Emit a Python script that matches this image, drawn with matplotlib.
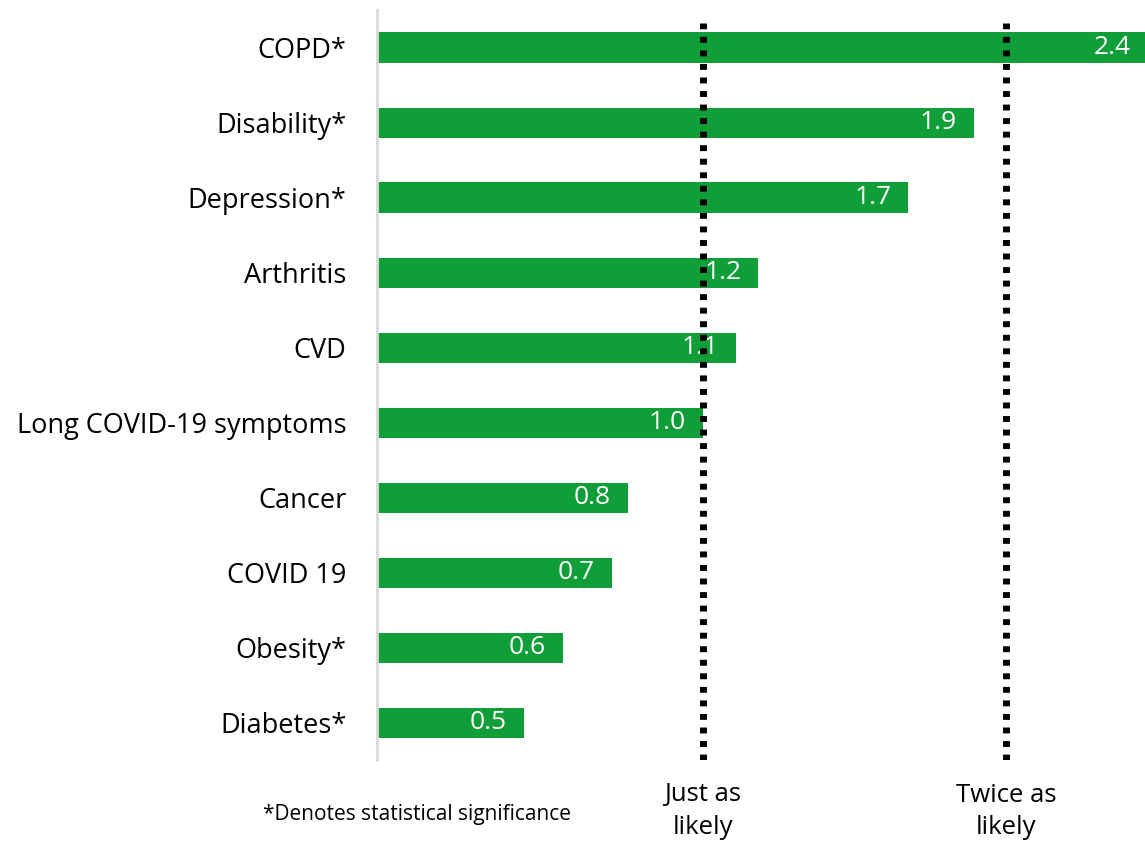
import matplotlib; matplotlib.use("Agg")
import matplotlib.pyplot as plt

# bars listed top to bottom
conditions = ["COPD*", "Disability*", "Depression*", "Arthritis", "CVD",
              "Long COVID-19 symptoms", "Cancer", "COVID 19", "Obesity*", "Diabetes*"]
bar_values = [2.40, 1.83, 1.63, 1.17, 1.10, 1.00, 0.77, 0.72, 0.57, 0.45]
value_labels = ["2.4", "1.9", "1.7", "1.2", "1.1", "1.0", "0.8", "0.7", "0.6", "0.5"]
ref_lines = [1.0, 1.93]
ref_labels = ["Just as\nlikely", "Twice as\nlikely"]

plt.rcParams["font.family"] = ["Open Sans", "DejaVu Sans"]
W, H = 1145, 844
fig = plt.figure(figsize=(W/100, H/100), dpi=100)
ax = fig.add_axes([377/W, 84/H, 1 - 377/W, 750/H])

ypos = list(range(len(conditions)))[::-1]
ax.barh(ypos, bar_values, height=0.4, color="#109E38", zorder=2)
for y, v, lab in zip(ypos, bar_values, value_labels):
    ax.text(min(v, 2.365) - 0.052, y, lab, color="white", fontsize=19,
            ha="right", va="center", zorder=3)

for xr, lab in zip(ref_lines, ref_labels):
    ax.axvline(xr, ymin=0, ymax=0.983, color="black", lw=5,
               linestyle=(0, (0.85, 1.1)), zorder=4)
    ax.text(xr, -0.8, lab, ha="center", va="top", fontsize=18.5,
            linespacing=1.4, clip_on=False)

ax.text(-0.35, -1.23, "*Denotes statistical significance", ha="left",
        va="center", fontsize=15, clip_on=False)

ax.set_xlim(0, 768/326)
ax.set_ylim(-0.5, 9.5)
ax.set_yticks(ypos)
ax.set_yticklabels(conditions, fontsize=19.5)
ax.tick_params(axis="y", length=0, pad=22)
ax.set_xticks([])
for s in ["top", "right", "bottom"]:
    ax.spines[s].set_visible(False)
ax.spines["left"].set_color("#D9D9D9")
ax.spines["left"].set_linewidth(2)

fig.savefig("out.png", dpi=100)
